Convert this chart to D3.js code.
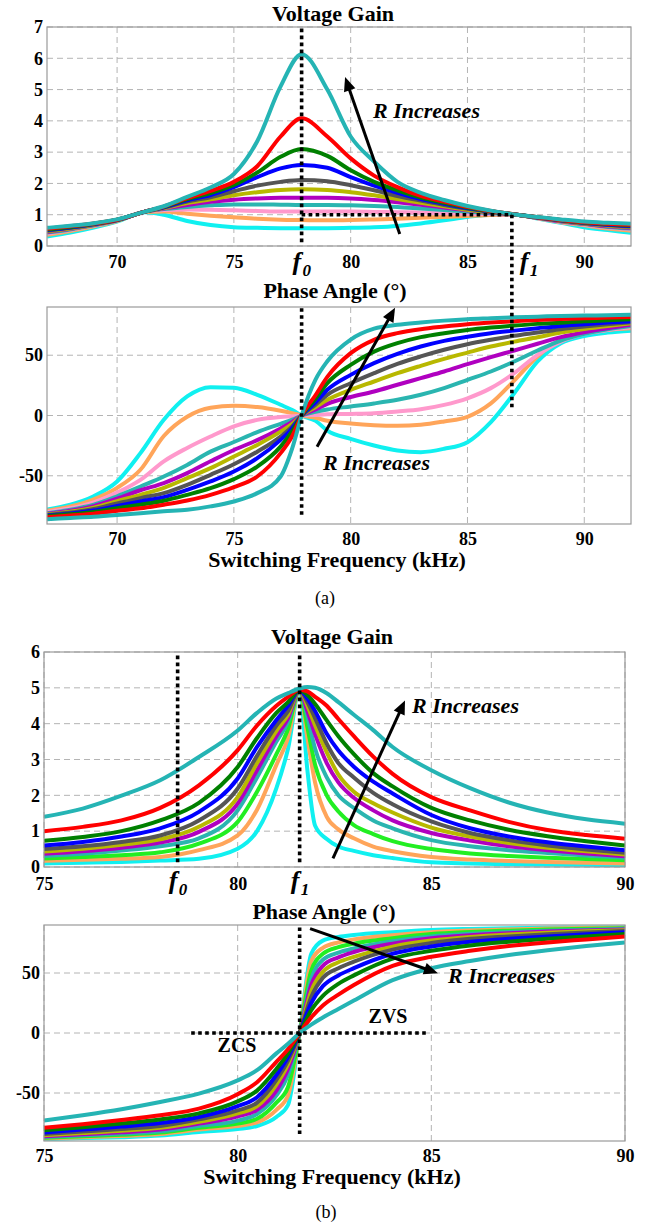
<!DOCTYPE html>
<html>
<head>
<meta charset="utf-8">
<script src="https://cdn.jsdelivr.net/npm/d3@7"></script>
<style>
  body { margin: 0; background: #fff; }
  svg { display: block; }
</style>
</head>
<body>
<script>
/* global d3 */
// curve colours, highest load resistance first
var colorsA = ["#25b4b4", "#ff0000", "#008000", "#0000ff", "#555555", "#b8b800", "#b000c0", "#2ab5b0", "#ff99cc", "#ffa55a", "#10f0f0"];
var colorsB = ["#25b4b4", "#ff0000", "#008000", "#0000ff", "#555555", "#b8b800", "#b000c0", "#2ab5b0", "#22ee22", "#ffa55a", "#10f0f0"];

// (a) voltage gain
var freqGainA = [67, 68, 69, 70, 71.2, 72, 73, 74, 75, 76, 77, 77.9, 79, 80, 81, 82, 83, 84, 85, 86, 87.1, 88, 89, 90, 91, 92];
var gainA = [
  [0.58, 0.65, 0.73, 0.85, 1.1, 1.27, 1.57, 1.87, 2.3, 3.35, 5.1, 6.13, 5.0, 3.5, 2.7, 2.05, 1.7, 1.47, 1.28, 1.13, 1.0, 0.93, 0.85, 0.78, 0.74, 0.71],
  [0.55, 0.63, 0.72, 0.84, 1.1, 1.26, 1.53, 1.76, 2.05, 2.55, 3.5, 4.08, 3.5, 2.8, 2.25, 1.88, 1.6, 1.42, 1.25, 1.12, 1.0, 0.92, 0.83, 0.76, 0.71, 0.68],
  [0.53, 0.61, 0.71, 0.84, 1.1, 1.25, 1.5, 1.69, 1.95, 2.35, 2.85, 3.1, 2.88, 2.42, 2.05, 1.78, 1.55, 1.38, 1.23, 1.11, 1.0, 0.92, 0.83, 0.75, 0.7, 0.66],
  [0.51, 0.59, 0.7, 0.83, 1.1, 1.24, 1.46, 1.63, 1.88, 2.2, 2.48, 2.59, 2.5, 2.2, 1.93, 1.7, 1.5, 1.35, 1.21, 1.1, 1.0, 0.91, 0.82, 0.74, 0.68, 0.64],
  [0.49, 0.58, 0.69, 0.83, 1.1, 1.23, 1.42, 1.56, 1.75, 1.93, 2.05, 2.11, 2.07, 1.94, 1.78, 1.6, 1.45, 1.31, 1.19, 1.09, 1.0, 0.91, 0.81, 0.73, 0.67, 0.62],
  [0.47, 0.56, 0.68, 0.82, 1.1, 1.21, 1.37, 1.49, 1.62, 1.72, 1.79, 1.81, 1.79, 1.72, 1.62, 1.5, 1.38, 1.27, 1.16, 1.08, 1.0, 0.9, 0.8, 0.72, 0.65, 0.6],
  [0.45, 0.55, 0.67, 0.82, 1.1, 1.2, 1.31, 1.41, 1.48, 1.52, 1.54, 1.54, 1.54, 1.52, 1.47, 1.4, 1.32, 1.23, 1.14, 1.07, 1.0, 0.9, 0.79, 0.71, 0.63, 0.58],
  [0.43, 0.53, 0.66, 0.81, 1.1, 1.18, 1.25, 1.3, 1.33, 1.33, 1.32, 1.31, 1.31, 1.3, 1.28, 1.25, 1.2, 1.15, 1.1, 1.05, 1.0, 0.9, 0.78, 0.7, 0.61, 0.56],
  [0.4, 0.51, 0.65, 0.81, 1.1, 1.15, 1.17, 1.16, 1.14, 1.12, 1.1, 1.1, 1.1, 1.1, 1.09, 1.08, 1.07, 1.05, 1.03, 1.02, 1.0, 0.89, 0.77, 0.68, 0.59, 0.53],
  [0.36, 0.48, 0.63, 0.8, 1.09, 1.1, 1.03, 0.97, 0.92, 0.87, 0.84, 0.83, 0.82, 0.83, 0.85, 0.87, 0.9, 0.93, 0.96, 0.99, 1.0, 0.89, 0.76, 0.66, 0.56, 0.49],
  [0.3, 0.43, 0.59, 0.78, 1.08, 1.0, 0.8, 0.67, 0.6, 0.58, 0.57, 0.57, 0.57, 0.58, 0.6, 0.64, 0.72, 0.82, 0.93, 1.0, 1.0, 0.88, 0.74, 0.6, 0.51, 0.42]
];

// (a) phase angle
var freqPhaseA = [67, 68, 69, 70, 71, 72, 73, 74, 75, 76, 77, 77.5, 77.9, 78.5, 79, 80, 81, 82, 83, 84, 85, 86, 87, 88, 89, 90, 91, 92];
var phaseA = [
  [-86, -85, -84, -82.6, -81, -79.5, -78.2, -75.4, -71.3, -64.4, -50.6, -27, 0, 30, 45, 63, 72, 75.2, 77.1, 78.7, 79.9, 80.7, 81.5, 82, 82.6, 82.9, 83.2, 83.5],
  [-84.5, -83, -81.5, -79, -77, -74, -70.5, -65.8, -59.4, -50.6, -31.2, -17, 0, 17, 32, 51.7, 62.8, 68.3, 71.6, 73.8, 75.7, 77.1, 78.2, 79.3, 80.1, 80.7, 81.2, 81.8],
  [-83.5, -82, -80, -77, -74, -70.7, -65.8, -60.3, -52.8, -42.4, -25.8, -13, 0, 14, 26.8, 42, 53, 60, 65, 68.3, 71, 73, 74.6, 76, 77, 78.2, 79, 79.9],
  [-83, -81.2, -78.8, -75, -71.3, -67.7, -61.7, -54.7, -46.5, -35.4, -20.2, -10.5, 0, 11, 21.3, 33.7, 43.4, 51.1, 57.2, 61.9, 65.4, 68.3, 70.4, 72.4, 74.3, 75.7, 77.1, 78.2],
  [-82.5, -80.5, -77.6, -73, -68.5, -64.4, -57.5, -49.2, -40.4, -30, -17.5, -9, 0, 9, 17.2, 26.8, 35.1, 42.8, 49, 54.5, 59.1, 62.8, 66.1, 68.8, 71.6, 73.8, 75.7, 77.4],
  [-82, -79.8, -76.4, -71, -65.8, -60, -52, -43.7, -34, -24.4, -13.4, -7, 0, 7, 13, 21.3, 28.2, 35.1, 41.2, 47, 52.2, 57.2, 61.3, 64.9, 68.8, 71.8, 74.3, 76.5],
  [-81.5, -79, -75.2, -69, -62, -56, -47.8, -38, -28.6, -20.4, -10.7, -5.3, 0, 5, 9.7, 15.3, 19.9, 25.5, 31, 36.5, 42.6, 48.4, 53.9, 59.5, 65, 69.1, 72.4, 75.2],
  [-81, -78.2, -74, -67, -58.9, -50.6, -41, -30, -22, -13.8, -6.9, -3.5, 0, 3, 5, 7.5, 10, 13, 17.2, 22.7, 29.6, 36.5, 44.8, 53.9, 62.2, 67.7, 71.6, 74.3],
  [-80, -77, -72, -64, -53.4, -38, -26.9, -17.4, -9, -3.6, -1.2, -0.6, 0, 0.5, 1, 1.3, 1.8, 3.3, 5.2, 8.8, 14.3, 22.7, 35.1, 50.3, 61.3, 67.7, 71, 73.2],
  [-79, -75.5, -69.5, -60, -45, -17, -1, 6.5, 8, 7, 4, 2, 0, -2, -4.4, -6.6, -8, -8.5, -7.7, -4.9, -1.1, 10, 29, 49, 62.8, 68.3, 71, 72.4],
  [-78, -74, -67, -54.7, -31.2, -3.6, 15.8, 23.5, 23, 17.2, 8.9, 4.5, 0, -4.5, -12.5, -19.4, -24.9, -29, -30.4, -27.6, -22.1, -5.5, 18.5, 44.8, 60, 66, 68.8, 70.4]
];

// (b) voltage gain
var freqGainB = [75, 76, 77, 78, 79, 80, 80.5, 81, 81.3, 81.6, 81.8, 82, 82.3, 82.6, 83, 83.5, 84, 85, 86, 87, 88, 89, 90];
var gainB = [
  [1.4, 1.63, 1.99, 2.42, 3.07, 3.81, 4.3, 4.7, 4.85, 4.98, 5.02, 5.0, 4.85, 4.6, 4.25, 3.82, 3.35, 2.7, 2.2, 1.8, 1.52, 1.33, 1.21],
  [1.0, 1.12, 1.3, 1.65, 2.28, 3.26, 3.95, 4.5, 4.75, 4.95, 4.9, 4.75, 4.5, 4.13, 3.65, 3.08, 2.6, 1.95, 1.58, 1.26, 1.03, 0.89, 0.79],
  [0.73, 0.84, 1.0, 1.3, 1.79, 2.79, 3.6, 4.3, 4.6, 4.95, 4.8, 4.55, 4.09, 3.65, 3.15, 2.62, 2.25, 1.65, 1.3, 1.04, 0.86, 0.72, 0.6],
  [0.6, 0.7, 0.85, 1.08, 1.54, 2.47, 3.35, 4.1, 4.5, 4.95, 4.7, 4.35, 3.72, 3.25, 2.8, 2.38, 2.05, 1.45, 1.08, 0.85, 0.69, 0.57, 0.47],
  [0.5, 0.58, 0.7, 0.88, 1.3, 2.19, 3.1, 3.95, 4.35, 4.95, 4.6, 4.15, 3.44, 2.9, 2.5, 2.07, 1.75, 1.27, 0.95, 0.75, 0.6, 0.49, 0.4],
  [0.43, 0.51, 0.62, 0.77, 1.12, 1.95, 2.9, 3.8, 4.25, 4.95, 4.5, 3.95, 3.2, 2.58, 2.1, 1.78, 1.52, 1.1, 0.85, 0.67, 0.54, 0.44, 0.35],
  [0.37, 0.44, 0.54, 0.68, 0.98, 1.77, 2.7, 3.65, 4.15, 4.95, 4.35, 3.7, 2.9, 2.36, 1.93, 1.58, 1.3, 0.95, 0.74, 0.58, 0.47, 0.38, 0.3],
  [0.31, 0.37, 0.46, 0.58, 0.8, 1.58, 2.5, 3.5, 4.05, 4.95, 4.2, 3.3, 2.5, 2.0, 1.65, 1.3, 1.08, 0.75, 0.58, 0.47, 0.39, 0.32, 0.26],
  [0.24, 0.28, 0.33, 0.41, 0.65, 1.26, 2.1, 3.15, 3.85, 4.95, 3.9, 2.85, 2.0, 1.55, 1.17, 0.92, 0.72, 0.5, 0.38, 0.31, 0.26, 0.22, 0.19],
  [0.17, 0.2, 0.23, 0.28, 0.47, 0.88, 1.6, 2.85, 3.6, 4.95, 3.6, 2.35, 1.4, 1.05, 0.8, 0.57, 0.44, 0.28, 0.21, 0.17, 0.14, 0.12, 0.1],
  [0.1, 0.12, 0.14, 0.18, 0.23, 0.51, 1.0, 2.2, 3.3, 4.95, 2.7, 1.15, 0.78, 0.57, 0.45, 0.33, 0.25, 0.13, 0.1, 0.08, 0.07, 0.06, 0.05]
];

// (b) phase angle
var freqPhaseB = [75, 76, 77, 78, 79, 80, 80.5, 81, 81.3, 81.6, 81.9, 82.2, 82.6, 83, 84, 85, 86, 87, 88, 89, 90];
var phaseB = [
  [-73, -68.5, -63.5, -57.5, -50.5, -39.5, -31, -17, -9, 0, 7, 13, 20, 27, 44, 54, 60, 65, 69, 72.5, 75.5],
  [-79, -76, -72.5, -68.5, -63, -51, -41, -24, -13.5, 0, 13, 23, 32, 40, 56, 63.5, 68.5, 72.5, 75.5, 78, 80.5],
  [-81, -78.5, -75.5, -72, -67, -57, -48, -30, -17, 0, 19, 31, 41, 48, 62, 68.5, 73, 76, 78.5, 80.5, 82.5],
  [-83, -80.5, -78, -75, -70, -61, -53.5, -35, -20, 0, 25, 39, 48, 54, 66, 72, 76, 78.5, 80.5, 82.3, 84],
  [-84.2, -82, -80, -77.5, -72, -64.5, -58, -39, -23, 0, 30, 46, 54, 59.5, 69.5, 75, 78.5, 80.5, 82.3, 83.8, 85],
  [-85.2, -83.3, -81.5, -79, -74, -67, -61, -43, -26, 0, 35, 51, 59, 63.5, 72, 77, 80, 82, 83.5, 84.7, 85.7],
  [-86, -84.3, -82.8, -80.5, -75.5, -69.5, -64, -48, -30, 0, 40, 56, 63, 67.5, 74.5, 79, 81.5, 83.2, 84.5, 85.5, 86.3],
  [-86.7, -85.2, -83.8, -81.8, -77.5, -73, -67.5, -52, -35, 0, 45, 61, 67, 70.5, 76.5, 80.5, 82.7, 84.2, 85.3, 86.1, 86.8],
  [-87.3, -86, -84.8, -83, -79, -75.5, -71.5, -58, -45, 0, 52, 66, 71.5, 74.5, 79, 82.5, 84.2, 85.3, 86.2, 86.8, 87.3],
  [-87.9, -86.8, -85.8, -84.2, -80.5, -77.5, -74.5, -64, -52, 0, 60, 71, 75.5, 78, 81.5, 84, 85.4, 86.3, 87, 87.4, 87.7],
  [-88.5, -87.6, -86.8, -85.5, -82.5, -80, -77.5, -70, -60, 0, 66, 77, 80, 81.7, 84, 85.8, 86.7, 87.3, 87.7, 88, 88.2]
];

var xTicksA = [70, 75, 80, 85, 90];
var xTicksB = [75, 80, 85, 90];
var yTicksGainA = [0, 1, 2, 3, 4, 5, 6, 7];
var yTicksGainB = [0, 1, 2, 3, 4, 5, 6];
var yTicksPhase = [-50, 0, 50];

var f0A = 77.9, f1A = 86.9;
var f0B = 78.45, f1B = 81.6;

var serif = '"Liberation Serif", "Times New Roman", serif';

var svg = d3.select("body").append("svg")
  .attr("width", 647)
  .attr("height", 1224);

function drawPanel(p) {
  var x = d3.scaleLinear().domain(p.xDomain).range([p.left, p.right]);
  var y = d3.scaleLinear().domain(p.yDomain).range([p.bottom, p.top]);
  var g = svg.append("g");

  g.append("clipPath").attr("id", p.id)
    .append("rect")
    .attr("x", p.left).attr("y", p.top)
    .attr("width", p.right - p.left).attr("height", p.bottom - p.top);

  // dashed grid
  g.selectAll(".vg").data(p.xTicks).enter().append("line")
    .attr("x1", function(d) { return x(d); }).attr("x2", function(d) { return x(d); })
    .attr("y1", p.top).attr("y2", p.bottom)
    .attr("stroke", "#b4b4b4").attr("stroke-width", 1).attr("stroke-dasharray", "6,4");
  g.selectAll(".hg").data(p.yTicks).enter().append("line")
    .attr("x1", p.left).attr("x2", p.right)
    .attr("y1", function(d) { return y(d); }).attr("y2", function(d) { return y(d); })
    .attr("stroke", "#b4b4b4").attr("stroke-width", 1).attr("stroke-dasharray", "6,4");

  var line = d3.line()
    .x(function(d) { return x(d[0]); })
    .y(function(d) { return y(d[1]); })
    .curve(d3.curveMonotoneX);

  var series = p.values.map(function(vals, i) {
    return { color: p.colors[i], pts: p.freq.map(function(f, j) { return [f, vals[j]]; }) };
  });

  // lowest R first so the teal curve ends up on top
  g.append("g").attr("clip-path", "url(#" + p.id + ")")
    .selectAll("path").data(series.slice().reverse()).enter().append("path")
    .attr("d", function(d) { return line(d.pts); })
    .attr("fill", "none")
    .attr("stroke", function(d) { return d.color; })
    .attr("stroke-width", 4)
    .attr("stroke-linejoin", "round");

  g.append("rect")
    .attr("x", p.left).attr("y", p.top)
    .attr("width", p.right - p.left).attr("height", p.bottom - p.top)
    .attr("fill", "none").attr("stroke", "#9a9a9a").attr("stroke-width", 1.2);

  var xa = g.append("g").attr("transform", "translate(0," + p.bottom + ")")
    .call(d3.axisBottom(x).tickValues(p.xTicks).tickSize(0).tickPadding(p.xPad).tickFormat(String));
  var ya = g.append("g").attr("transform", "translate(" + p.left + ",0)")
    .call(d3.axisLeft(y).tickValues(p.yTicks).tickSize(0).tickPadding(4).tickFormat(String));
  [xa, ya].forEach(function(a) {
    a.select(".domain").remove();
    a.attr("font-family", serif).attr("font-size", 18).attr("font-weight", "bold");
    a.selectAll("text").attr("fill", "#000");
  });

  return { x: x, y: y };
}

var pGA = drawPanel({ id: "cGA", left: 47, right: 631, top: 27, bottom: 246, xDomain: [67, 92], yDomain: [0, 7],
  xTicks: xTicksA, yTicks: yTicksGainA, xPad: 9, freq: freqGainA, values: gainA, colors: colorsA });
var pPA = drawPanel({ id: "cPA", left: 47, right: 631, top: 307, bottom: 524, xDomain: [67, 92], yDomain: [-90, 90],
  xTicks: xTicksA, yTicks: yTicksPhase, xPad: 8, freq: freqPhaseA, values: phaseA, colors: colorsA });
var pGB = drawPanel({ id: "cGB", left: 44, right: 625, top: 652, bottom: 867, xDomain: [75, 90], yDomain: [0, 6],
  xTicks: xTicksB, yTicks: yTicksGainB, xPad: 10, freq: freqGainB, values: gainB, colors: colorsB });
var pPB = drawPanel({ id: "cPB", left: 44, right: 625, top: 925, bottom: 1141, xDomain: [75, 90], yDomain: [-90, 90],
  xTicks: xTicksB, yTicks: yTicksPhase, xPad: 8, freq: freqPhaseB, values: phaseB, colors: colorsB });

function dotted(x1, y1, x2, y2) {
  svg.append("line")
    .attr("x1", x1).attr("y1", y1).attr("x2", x2).attr("y2", y2)
    .attr("stroke", "#000").attr("stroke-width", 3.6).attr("stroke-dasharray", "3.6,3.4");
}

function arrow(x1, y1, x2, y2) {
  var dx = x2 - x1, dy = y2 - y1, len = Math.sqrt(dx * dx + dy * dy);
  var ux = dx / len, uy = dy / len, hl = 14, hw = 6;
  var bx = x2 - ux * hl, by = y2 - uy * hl;
  svg.append("line")
    .attr("x1", x1).attr("y1", y1).attr("x2", bx + ux * 2).attr("y2", by + uy * 2)
    .attr("stroke", "#000").attr("stroke-width", 3);
  svg.append("path")
    .attr("d", "M" + x2 + "," + y2 + "L" + (bx - uy * hw) + "," + (by + ux * hw) + "L" + (bx + uy * hw) + "," + (by - ux * hw) + "Z")
    .attr("fill", "#000");
}

function label(txt, x, y, size, weight, style, anchor) {
  return svg.append("text")
    .attr("x", x).attr("y", y)
    .attr("font-family", serif).attr("font-size", size)
    .attr("font-weight", weight).attr("font-style", style)
    .attr("text-anchor", anchor || "start")
    .attr("fill", "#000")
    .text(txt);
}

function fLabel(sub, x, y) {
  label("f", x - 9, y, 26, "bold", "italic");
  label(sub, x + 1, y + 6, 17, "bold", "italic");
}

// (a) annotations
dotted(pGA.x(f0A), pGA.y(6.95), pGA.x(f0A), pGA.y(0.1));
dotted(pGA.x(f0A), pGA.y(1), pGA.x(f1A), pGA.y(1));
dotted(pGA.x(f1A), pGA.y(1), pPA.x(f1A), pPA.y(6));
dotted(pPA.x(f0A), pPA.y(89), pPA.x(f0A), pPA.y(-84));
arrow(pGA.x(82.1), pGA.y(0.38), pGA.x(79.76), pGA.y(5.4));
arrow(pPA.x(78.56), pPA.y(-26), pPA.x(81.9), pPA.y(89.3));

label("Voltage Gain", 333, 21, 22, "bold", "normal", "middle");
label("Phase Angle (\u00b0)", 335, 298, 22, "bold", "normal", "middle");
label("Switching Frequency (kHz)", 337, 567, 22, "bold", "normal", "middle");
label("(a)", 325, 604, 18, "normal", "normal", "middle");
label("R Increases", 373, 118, 22, "bold", "italic");
label("R Increases", 323, 470, 22, "bold", "italic");
fLabel("0", pGA.x(f0A), 270);
fLabel("1", pGA.x(f1A) + 17, 270);

// (b) annotations
dotted(pGB.x(f0B), pGB.y(5.9), pGB.x(f0B), pGB.y(0.1));
dotted(pGB.x(f1B), pGB.y(5.9), pGB.x(f1B), pGB.y(0.1));
dotted(pPB.x(f1B), pPB.y(88), pPB.x(f1B), pPB.y(-87));
dotted(pPB.x(78.8), pPB.y(0), pPB.x(84.9), pPB.y(0));
arrow(pGB.x(82.46), pGB.y(0.24), pGB.x(84.32), pGB.y(4.65));
arrow(pPB.x(81.87), pPB.y(87), pPB.x(85.17), pPB.y(49.8));

label("Voltage Gain", 332, 644, 22, "bold", "normal", "middle");
label("Phase Angle (\u00b0)", 324, 919, 22, "bold", "normal", "middle");
label("Switching Frequency (kHz)", 332, 1184, 22, "bold", "normal", "middle");
label("(b)", 326, 1218, 18, "normal", "normal", "middle");
label("R Increases", 412, 713, 22, "bold", "italic");
label("R Increases", 448, 983, 22, "bold", "italic");
label("ZCS", 237, 1052, 20, "bold", "normal", "middle");
label("ZVS", 388, 1023, 20, "bold", "normal", "middle");
fLabel("0", pGB.x(f0B), 889);
fLabel("1", pGB.x(f1B), 889);
</script>
</body>
</html>
